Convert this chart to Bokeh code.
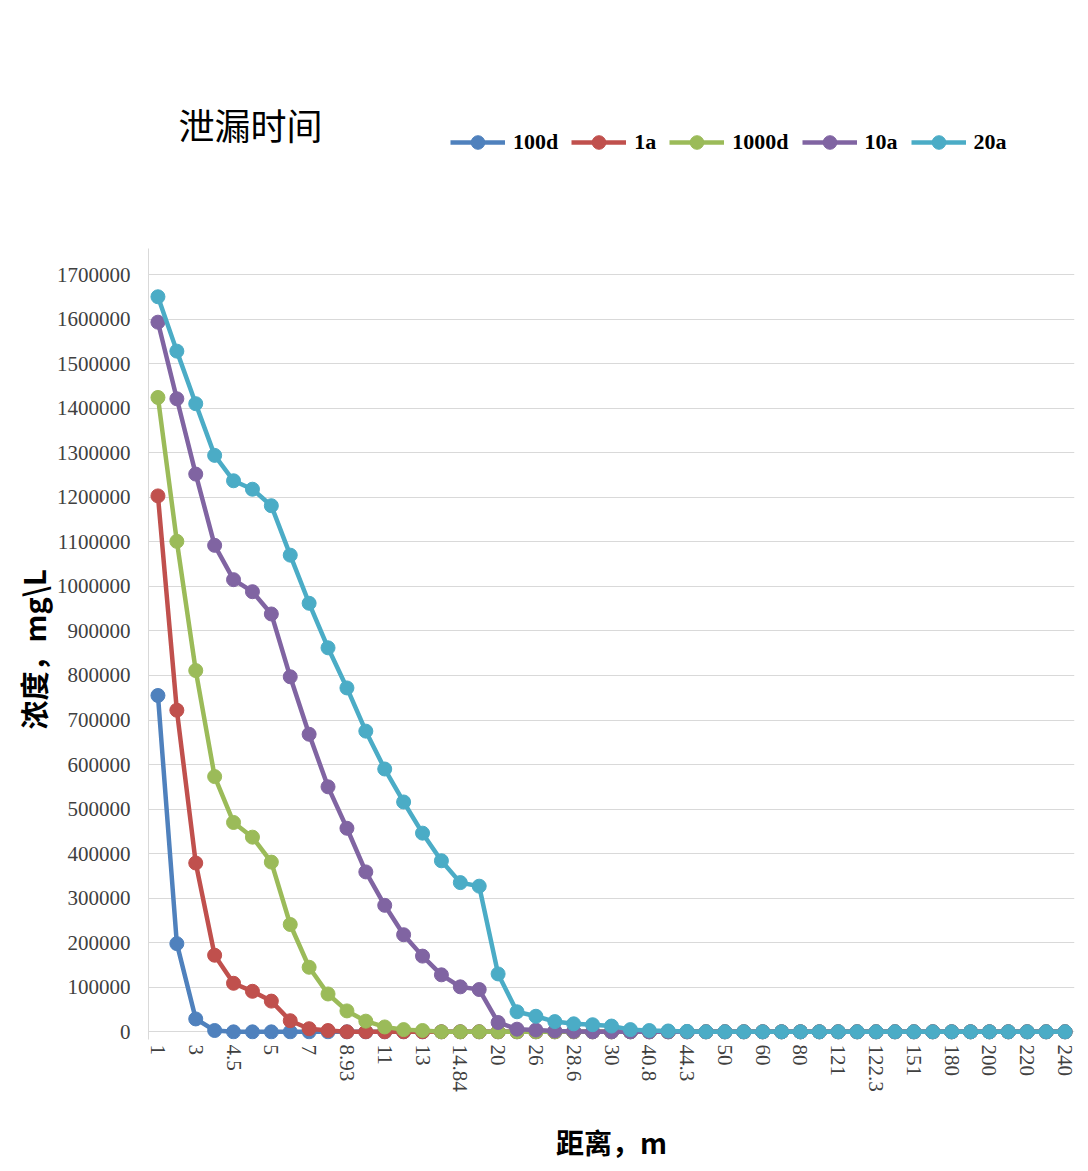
from bokeh.plotting import figure
from bokeh.models import Range1d, FixedTicker, NumeralTickFormatter, Legend, LegendItem, Label, Title
from bokeh.embed import file_html
from bokeh.resources import INLINE

# ---------------- data ----------------
distances = ["1", "2", "3", "4", "4.5", "4.8", "5", "6", "7", "8", "8.93", "10", "11", "12",
             "13", "14", "14.84", "15", "20", "25", "26", "27", "28.6", "29", "30", "40",
             "40.8", "44", "44.3", "45", "50", "55", "60", "70", "80", "100", "121", "122",
             "122.3", "130", "151", "160", "180", "190", "200", "210", "220", "230", "240"]

series_names = ["100d", "1a", "1000d", "10a", "20a"]

conc_100d = [755000, 198000, 29000, 3000, 0, 0, 0, 0, 0, 0, 0, 0, 0, 0, 0, 0, 0, 0, 0, 0,
             0, 0, 0, 0, 0, 0, 0, 0, 0, 0, 0, 0, 0, 0, 0, 0, 0, 0, 0, 0, 0, 0, 0, 0, 0, 0,
             0, 0, 0]
conc_1a = [1203000, 722000, 379000, 172000, 109000, 91000, 69000, 25000, 7000, 3000, 0, 0,
           0, 0, 0, 0, 0, 0, 0, 0, 0, 0, 0, 0, 0, 0, 0, 0, 0, 0, 0, 0, 0, 0, 0, 0, 0, 0, 0,
           0, 0, 0, 0, 0, 0, 0, 0, 0, 0]
conc_1000d = [1424000, 1101000, 811000, 573000, 470000, 437000, 381000, 241000, 145000,
              85000, 47000, 24000, 11000, 5000, 3000, 0, 0, 0, 0, 0, 0, 0, 0, 0, 0, 0, 0,
              0, 0, 0, 0, 0, 0, 0, 0, 0, 0, 0, 0, 0, 0, 0, 0, 0, 0, 0, 0, 0, 0]
conc_10a = [1593000, 1421000, 1252000, 1092000, 1015000, 988000, 938000, 797000, 668000,
            550000, 457000, 359000, 284000, 218000, 170000, 128000, 101000, 95000, 21000,
            6000, 4000, 2000, 1000, 0, 0, 0, 0, 0, 0, 0, 0, 0, 0, 0, 0, 0, 0, 0, 0, 0, 0,
            0, 0, 0, 0, 0, 0, 0, 0]
conc_20a = [1650000, 1528000, 1410000, 1294000, 1237000, 1218000, 1181000, 1070000, 962000,
            862000, 772000, 675000, 590000, 516000, 446000, 384000, 335000, 327000, 130000,
            45000, 35000, 23000, 18000, 16000, 13000, 5000, 3000, 2000, 1000, 0, 0, 0, 0, 0,
            0, 0, 0, 0, 0, 0, 0, 0, 0, 0, 0, 0, 0, 0, 0]

y_ticks = [0, 100000, 200000, 300000, 400000, 500000, 600000, 700000, 800000, 900000,
           1000000, 1100000, 1200000, 1300000, 1400000, 1500000, 1600000, 1700000]

chart_title = "泄漏时间"
x_title = "距离，m"
y_title = "浓度，mg\\L"

colors = ["#4F81BD", "#C0504D", "#9BBB59", "#8064A2", "#4BACC6"]

# ---------------- figure ----------------
n = len(distances)
xs = list(range(n))

y_start, y_end = -17170, 2315050      # frame spans the full height (title/legend area on top)
axis_top = 1757600                    # top of the plotting area (axis line extent)

p = figure(width=1088, height=1164, output_backend="svg", toolbar_location=None,
           x_range=Range1d(-0.5, n - 0.5), y_range=Range1d(y_start, y_end),
           min_border_left=148, min_border_right=14, min_border_top=0,
           min_border_bottom=118)
p.background_fill_color = "white"
p.border_fill_color = "white"
p.outline_line_color = None

items = []
all_series = [conc_100d, conc_1a, conc_1000d, conc_10a, conc_20a]
for name, vals, c in zip(series_names, all_series, colors):
    r1 = p.line(xs, vals, line_color=c, line_width=4.5)
    r2 = p.scatter(xs, vals, marker="circle", size=14, fill_color=c, line_color=c)
    items.append(LegendItem(label=name, renderers=[r1, r2]))

# x axis
p.xaxis.ticker = FixedTicker(ticks=[i for i in xs if i % 2 == 0])
p.xaxis.major_label_overrides = {i: distances[i] for i in xs if i % 2 == 0}
p.xaxis.major_label_orientation = "vertical"
p.xaxis.major_label_text_font = "Liberation Serif"
p.xaxis.major_label_text_font_size = "21px"
p.xaxis.major_label_text_color = "#404040"
p.xaxis.major_label_standoff = 5
p.xaxis.major_tick_out = 0
p.xaxis.major_tick_in = 0
p.xaxis.minor_tick_out = 0
p.xaxis.minor_tick_in = 0
p.xaxis.axis_line_alpha = 0
p.xaxis.axis_label = x_title
p.xaxis.axis_label_text_font = "Noto Sans CJK SC"
p.xaxis.axis_label_text_font_style = "bold"
p.xaxis.axis_label_text_font_size = "28px"
p.xaxis.axis_label_text_color = "#000000"
p.xaxis.axis_label_standoff = 27

# y axis
p.yaxis.ticker = FixedTicker(ticks=y_ticks)
p.yaxis.formatter = NumeralTickFormatter(format="0")
p.yaxis.bounds = (y_start, axis_top)
p.yaxis.major_label_text_font = "Liberation Serif"
p.yaxis.major_label_text_font_size = "21px"
p.yaxis.major_label_text_color = "#404040"
p.yaxis.major_label_standoff = 18
p.yaxis.major_tick_out = 0
p.yaxis.major_tick_in = 0
p.yaxis.minor_tick_out = 0
p.yaxis.minor_tick_in = 0
p.yaxis.axis_line_color = "#d9d9d9"

# y axis title, placed along the plotting area rather than the full frame
y_title_ann = Title(text=y_title, align="left", offset=310, standoff=0,
                    text_font="Noto Sans CJK SC", text_font_style="bold",
                    text_font_size="29px", text_color="#000000")
p.add_layout(y_title_ann, "left")

p.xgrid.visible = False
p.ygrid.grid_line_color = "#d9d9d9"
p.ygrid.grid_line_width = 1

# legend (top, horizontal)
legend = Legend(items=items, orientation="horizontal", location=(302, 880),
                glyph_width=55, glyph_height=34, label_standoff=8, spacing=13,
                padding=0, margin=0, border_line_alpha=0, background_fill_alpha=0,
                label_text_font="Liberation Serif", label_text_font_style="bold",
                label_text_font_size="22px", label_text_color="#000000")
p.add_layout(legend)

# chart title (top left)
title = Label(x=30, y=916, x_units="screen", y_units="screen", text=chart_title,
              text_font="Noto Sans CJK SC", text_font_size="36px",
              text_baseline="middle", text_align="left", text_color="#000000")
p.add_layout(title)

open("out.html", "w").write(file_html(p, INLINE))
